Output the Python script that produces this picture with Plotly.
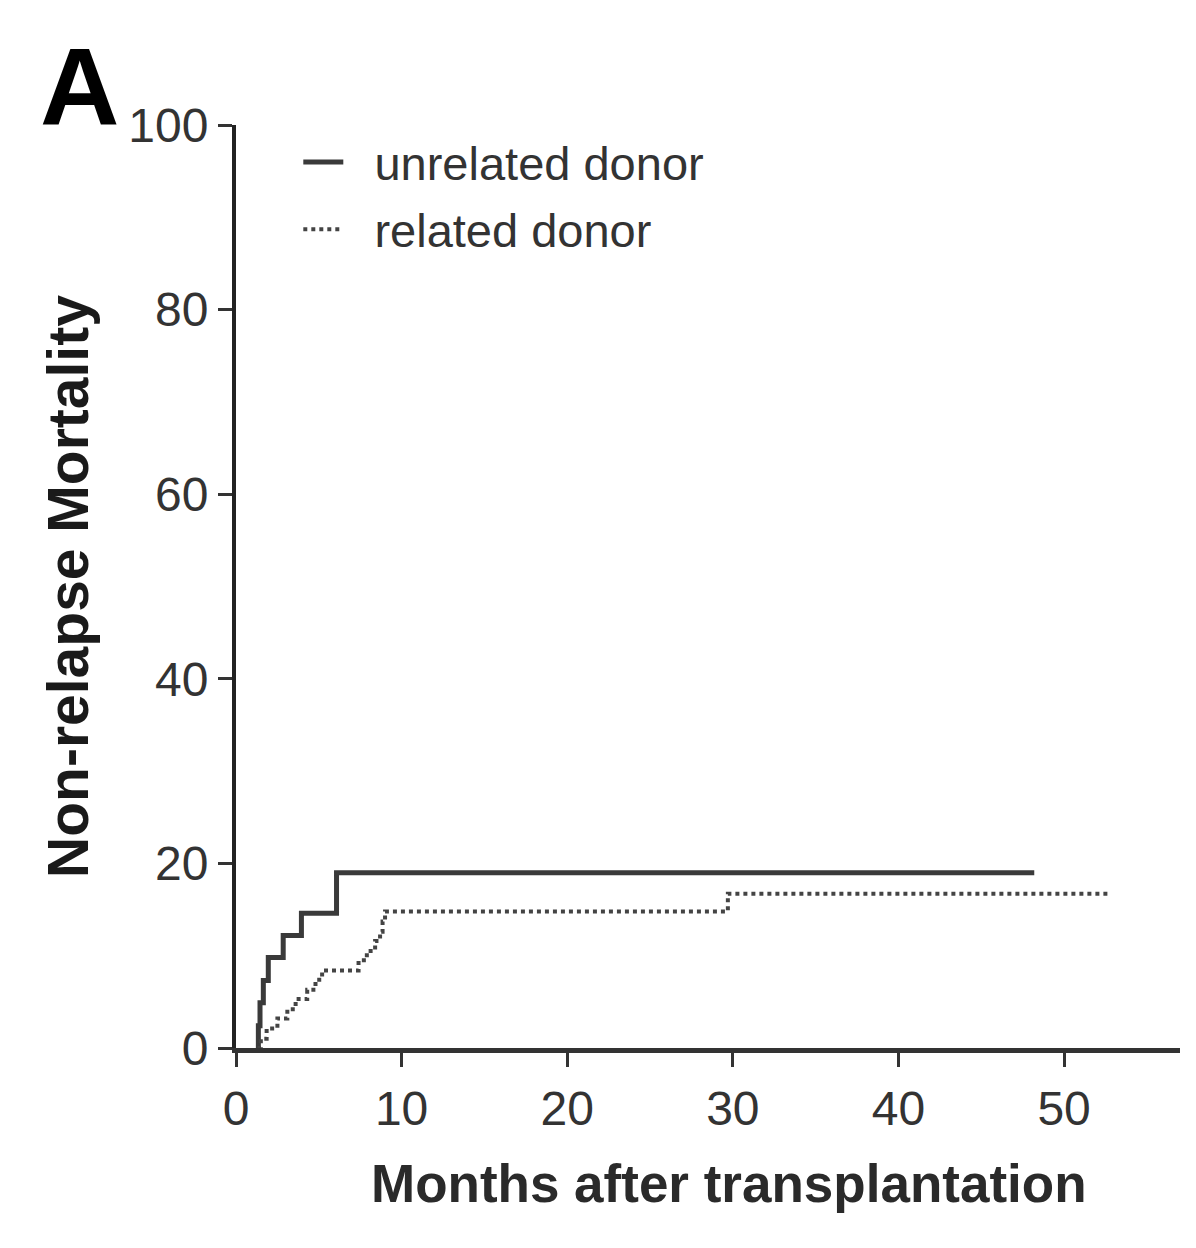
import plotly.graph_objects as go

# Data (cumulative non-relapse mortality, %)
unrelated_months = [1.3, 1.35, 1.45, 1.65, 1.95, 2.85, 3.95, 6.07, 48.2]
unrelated_nrm = [0, 2.4, 4.9, 7.3, 9.8, 12.2, 14.6, 19.0, 19.0]

related_months = [1.3, 1.5, 1.85, 2.5, 3.1, 3.6, 4.3, 4.8, 5.2, 7.4, 7.9, 8.4, 8.7, 8.85, 9.0, 29.7, 52.8]
related_nrm = [0, 1.0, 2.1, 3.2, 4.2, 5.3, 6.3, 7.4, 8.4, 9.5, 10.5, 11.6, 12.6, 13.7, 14.8, 16.7, 16.7]

x_ticks = [0, 10, 20, 30, 40, 50]
y_ticks = [0, 20, 40, 60, 80, 100]

FONT = "Liberation Sans"
NB = "\u00a0"

fig = go.Figure()
fig.add_trace(go.Scatter(
    x=unrelated_months, y=unrelated_nrm, mode="lines", line_shape="hv",
    line=dict(color="#3a3a3a", width=5), name=NB * 2 + "unrelated donor",
    legendgroup="a"))
fig.add_trace(go.Scatter(
    x=related_months, y=related_nrm, mode="lines", line_shape="hv",
    line=dict(color="#444444", width=4, dash="dot"), name=NB * 2 + "related donor",
    legendgroup="b"))

fig.update_layout(
    width=1196, height=1248,
    margin=dict(l=236, r=16, t=125, b=200),
    paper_bgcolor="white", plot_bgcolor="white",
    font=dict(family=FONT, color="#333333"),
    showlegend=True,
    legend=dict(x=0.066, y=1.0, xanchor="left", yanchor="top",
                font=dict(size=47, color="#333333"), bgcolor="rgba(0,0,0,0)",
                tracegroupgap=3, itemwidth=40),
    xaxis=dict(range=[0, 57], tickvals=x_ticks, ticks="outside", ticklen=14,
               tickwidth=3, tickcolor="#333333", showline=True, linewidth=5,
               linecolor="#333333", showgrid=False, zeroline=False,
               tickfont=dict(size=48, color="#333333")),
    yaxis=dict(range=[0, 100], tickvals=y_ticks, ticks="outside", ticklen=14,
               tickwidth=3, tickcolor="#333333", showline=True, linewidth=4,
               linecolor="#222222", showgrid=False, zeroline=False,
               tickfont=dict(size=48, color="#333333"),
               title=dict(text="<b>Non-relapse Mortality</b>",
                          font=dict(size=57, color="#1a1a1a"), standoff=22)),
)
# x-axis title (slightly right of centre, as in the reference)
fig.add_annotation(text="<b>Months after transplantation</b>", xref="paper", yref="paper",
                   x=(729 - 236) / 944, y=-(1183 - 1048) / 923,
                   xanchor="center", yanchor="middle", showarrow=False,
                   font=dict(size=53, color="#2a2a2a", family=FONT))
fig.add_annotation(text="<b>A</b>", xref="paper", yref="paper",
                   x=(38 - 236) / 944, y=1 + (125 - 22) / 923,
                   xanchor="left", yanchor="top", showarrow=False,
                   font=dict(size=110, color="#000000", family=FONT))

fig.write_html("out.html")
